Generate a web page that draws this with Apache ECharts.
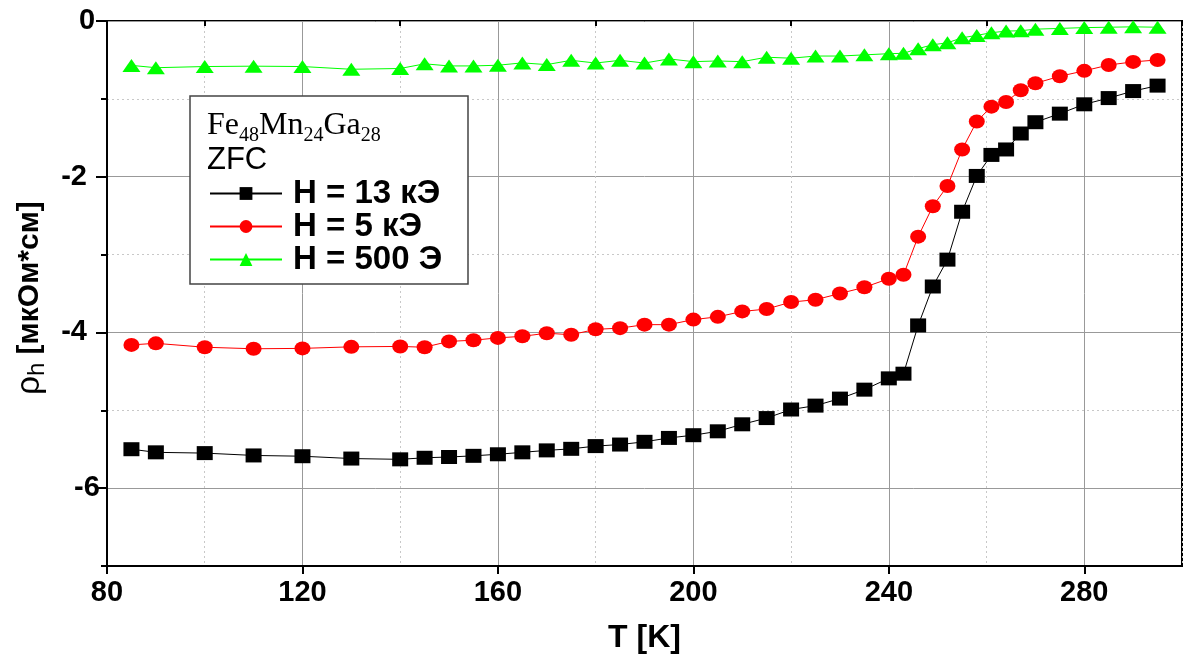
<!DOCTYPE html>
<html>
<head>
<meta charset="utf-8">
<script src="https://cdn.jsdelivr.net/npm/echarts@6/dist/echarts.min.js"></script>
<style>
html,body{margin:0;padding:0;background:#fff;}
#c{width:1184px;height:659px;}
</style>
</head>
<body>
<div id="c"></div>
<script>
// Temperatures (K)
const temps = [85,90,100,110,120,130,140,145,150,155,160,165,170,175,180,185,190,195,200,205,210,215,220,225,230,235,240,243,246,249,252,255,258,261,264,267,270,275,280,285,290,295];
// H = 13 kOe
const rho13 = [-5.50,-5.54,-5.55,-5.58,-5.59,-5.62,-5.63,-5.61,-5.60,-5.585,-5.565,-5.54,-5.515,-5.495,-5.46,-5.44,-5.405,-5.355,-5.32,-5.27,-5.18,-5.10,-4.99,-4.94,-4.85,-4.735,-4.59,-4.53,-3.91,-3.41,-3.065,-2.45,-1.99,-1.72,-1.65,-1.445,-1.30,-1.19,-1.07,-0.99,-0.90,-0.83];
// H = 5 kOe
const rho5 = [-4.16,-4.14,-4.19,-4.21,-4.205,-4.185,-4.18,-4.19,-4.115,-4.10,-4.07,-4.05,-4.01,-4.03,-3.96,-3.945,-3.90,-3.90,-3.835,-3.80,-3.73,-3.70,-3.61,-3.58,-3.50,-3.42,-3.31,-3.26,-2.77,-2.38,-2.12,-1.65,-1.29,-1.10,-1.04,-0.89,-0.80,-0.71,-0.64,-0.565,-0.525,-0.50];
// H = 500 Oe
const rho500 = [-0.57,-0.60,-0.585,-0.58,-0.585,-0.62,-0.61,-0.55,-0.577,-0.577,-0.568,-0.538,-0.56,-0.505,-0.54,-0.505,-0.54,-0.487,-0.522,-0.513,-0.522,-0.465,-0.478,-0.45,-0.45,-0.435,-0.42,-0.415,-0.355,-0.305,-0.28,-0.215,-0.185,-0.15,-0.13,-0.125,-0.105,-0.095,-0.085,-0.08,-0.075,-0.08];

const seriesNames = ['H = 13 кЭ','H = 5 кЭ','H = 500 Э'];
const xMajor = [80,120,160,200,240,280];
const xMinor = [100,140,180,220,260,300];
const yMajor = [0,-2,-4,-6];
const yMinor = [-1,-3,-5,-7];
const xName = 'T [K]';

function pairs(xs, ys){ return xs.map((x,i)=>[x, ys[i]]); }

const SANS = 'Liberation Sans, Arial, sans-serif';
const SERIF = 'Liberation Serif, Times New Roman, serif';
const labelFont = {fontFamily:SANS, fontWeight:'bold', fontSize:29, color:'#000'};

const chart = echarts.init(document.getElementById('c'));
chart.setOption({
  animation:false,
  backgroundColor:'#fff',
  grid:{left:107, right:2, top:21, bottom:92, show:true, borderColor:'#000', borderWidth:2, backgroundColor:'transparent'},
  xAxis:[
    {type:'value', min:80, max:300, position:'bottom',
     axisLine:{show:true, onZero:false, lineStyle:{color:'#000', width:2}},
     axisTick:{show:true, customValues:xMajor, length:8, lineStyle:{color:'#000', width:2}},
     axisLabel:Object.assign({customValues:xMajor, margin:12, alignMinLabel:'center', alignMaxLabel:'center'}, labelFont),
     splitLine:{show:true, lineStyle:{color:'#999', width:1, type:'solid'}},
     name:xName, nameLocation:'middle', nameGap:56,
     nameTextStyle:{fontFamily:SANS, fontWeight:'bold', fontSize:32, color:'#000'}
    },
    {type:'value', min:80, max:300, position:'bottom',
     axisLine:{show:false},
     axisTick:{show:true, customValues:xMinor, length:5, lineStyle:{color:'#000', width:2}},
     axisLabel:{show:false},
     splitLine:{show:true, lineStyle:{color:'#c8c8c8', width:1, type:[2,3]}}
    }
  ],
  yAxis:[
    {type:'value', min:-7, max:0, position:'left',
     axisLine:{show:true, onZero:false, lineStyle:{color:'#000', width:2}},
     axisTick:{show:true, customValues:yMajor, length:11, lineStyle:{color:'#000', width:2}},
     axisLabel:Object.assign({customValues:yMajor, margin:20, alignMinLabel:'middle', alignMaxLabel:'middle'}, labelFont),
     splitLine:{show:true, lineStyle:{color:'#999', width:1, type:'solid'}}
    },
    {type:'value', min:-7, max:0, position:'left',
     axisLine:{show:false},
     axisTick:{show:true, customValues:yMinor, length:6, lineStyle:{color:'#000', width:2}},
     axisLabel:{show:false},
     splitLine:{show:true, lineStyle:{color:'#c8c8c8', width:1, type:[2,3]}}
    }
  ],
  legend:{
    orient:'vertical', left:209, top:177, padding:0, itemGap:0,
    itemWidth:72, itemHeight:16, z:20,
    data:seriesNames,
    textStyle:{fontFamily:SANS, fontWeight:'bold', fontSize:33, color:'#000', lineHeight:30, padding:[0,0,0,6]}
  },
  graphic:[
    {type:'rect', z:10, shape:{x:190, y:96, width:278, height:188},
     style:{fill:'#fff', stroke:'#444', lineWidth:1.5}},
    {type:'text', z:11, x:207, y:126,
     style:{text:'{a|Fe}{s|48}{a|Mn}{s|24}{a|Ga}{s|28}', textVerticalAlign:'middle',
       rich:{a:{fontFamily:SERIF, fontSize:32, lineHeight:40, fill:'#000'},
             s:{fontFamily:SERIF, fontSize:20, lineHeight:19, verticalAlign:'bottom', fill:'#000'}}}},
    {type:'text', z:11, x:207, y:160,
     style:{text:'ZFC', textVerticalAlign:'middle', font:'31px "Liberation Sans", Arial, sans-serif', fill:'#000'}},
    {type:'text', z:11, x:30, y:298, rotation:Math.PI/2,
     style:{text:'{r|ρ}{h|h}{b| [мкОм*см]}', textAlign:'center', textVerticalAlign:'middle',
       rich:{r:{fontFamily:SANS, fontSize:33, lineHeight:38, fill:'#000'},
             h:{fontFamily:SANS, fontSize:24, lineHeight:24, verticalAlign:'bottom', fill:'#000'},
             b:{fontFamily:SANS, fontWeight:'bold', fontSize:30, lineHeight:38, fill:'#000'}}}}
  ],
  series:[
    {name:seriesNames[0], type:'line', data:pairs(temps, rho13), symbol:'rect', symbolSize:[16,14],
     itemStyle:{color:'#000'}, lineStyle:{color:'#000', width:1}, z:5},
    {name:seriesNames[1], type:'line', data:pairs(temps, rho5), symbol:'circle', symbolSize:[16,14],
     itemStyle:{color:'#ff0000'}, lineStyle:{color:'#ff0000', width:1}, z:4},
    {name:seriesNames[2], type:'line', data:pairs(temps, rho500), symbol:'triangle', symbolSize:[18,13],
     itemStyle:{color:'#00ff00'}, lineStyle:{color:'#00ff00', width:1}, z:3}
  ]
});
</script>
</body>
</html>
